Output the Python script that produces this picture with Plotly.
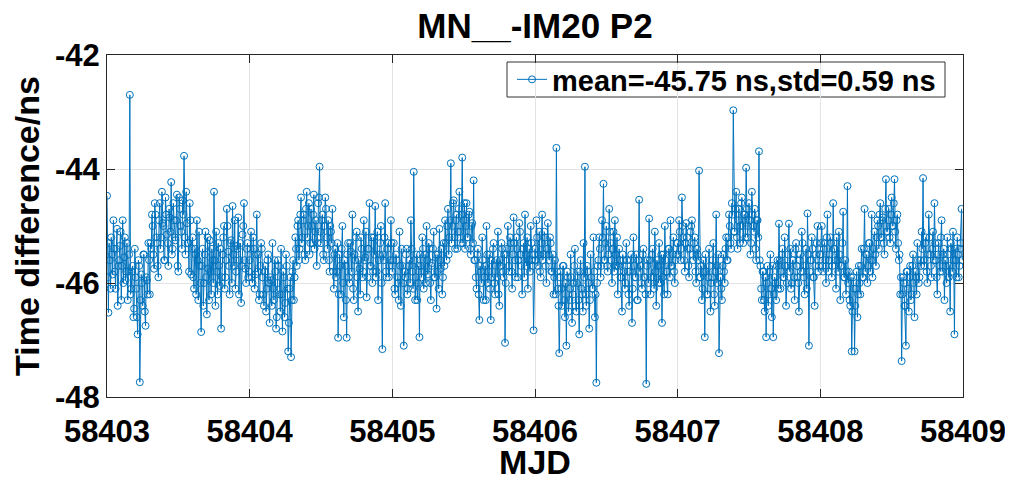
import plotly.graph_objects as go

# Time difference (ns) per MJD day (two interleaved passes per day)
day_58403 = [-44.47, -46.52, -45.60, -45.20, -45.85, -45.40, -46.10, -45.05, -45.70, -45.35, -46.30, -44.90, -45.55, -45.95, -45.30, -45.80, -42.70, -46.10, -45.70, -46.45, -45.90, -46.60, -45.60, -47.74, -45.85, -46.40, -45.50, -46.75, -45.95, -45.30, -46.20, -45.40, -45.00, -45.75, -44.80, -45.30, -45.90, -44.60, -45.20, -44.95, -45.60, -44.50, -45.15, -45.70, -44.85, -44.23, -45.40, -44.90, -45.25, -44.45, -45.80, -44.70, -45.10, -44.55, -43.77, -45.50, -44.95, -45.30, -44.60, -45.85, -45.20, -46.10, -45.50, -44.90, -46.30, -45.70, -46.86, -45.40, -46.00, -45.10, -46.55, -45.75, -45.25, -46.20, -45.60, -44.40, -46.40, -45.80, -45.30, -46.05, -46.80, -45.50, -45.00, -45.90, -44.70, -45.45, -46.20, -45.25, -44.65, -45.70, -46.10, -45.35, -44.85, -45.60, -46.35, -45.15, -44.60, -45.75, -45.40, -45.90]
day_58404 = [-45.60, -45.10, -46.00, -45.40, -45.85, -44.80, -45.50, -46.20, -45.30, -45.90, -46.40, -45.70, -46.10, -45.50, -46.70, -45.95, -45.30, -46.30, -45.80, -46.60, -45.60, -46.20, -45.40, -46.85, -45.90, -46.35, -45.70, -47.20, -46.10, -47.30, -45.80, -46.30, -45.20, -45.70, -44.90, -45.40, -44.50, -45.20, -44.80, -45.60, -44.40, -45.00, -45.50, -44.70, -45.30, -44.45, -45.10, -45.70, -44.60, -43.96, -45.30, -44.80, -45.60, -44.50, -45.20, -44.90, -45.80, -45.10, -44.70, -46.10, -45.40, -45.80, -46.96, -45.50, -46.20, -45.00, -46.60, -45.70, -46.96, -45.30, -46.00, -45.45, -44.80, -46.30, -45.60, -45.10, -46.50, -45.75, -45.20, -45.90, -44.90, -45.55, -46.25, -45.40, -44.60, -45.70, -46.00, -45.20, -44.65, -45.80, -46.30, -45.50, -45.00, -47.16, -45.60, -44.60, -45.90, -45.30, -45.70, -44.90]
day_58405 = [-45.80, -45.30, -46.20, -45.60, -46.00, -45.10, -46.40, -45.70, -47.10, -45.90, -45.40, -46.10, -45.60, -44.90, -45.80, -44.05, -46.30, -45.50, -46.00, -46.95, -45.70, -45.20, -46.10, -45.50, -45.00, -45.85, -45.40, -46.30, -45.65, -45.10, -45.90, -46.45, -45.50, -45.05, -45.75, -46.20, -45.30, -44.90, -45.60, -44.70, -45.20, -43.90, -45.00, -44.55, -45.40, -44.80, -45.10, -44.40, -45.30, -43.80, -44.90, -45.40, -44.60, -45.20, -44.75, -45.50, -44.95, -44.20, -45.60, -46.10, -45.40, -46.65, -45.80, -45.20, -46.30, -45.70, -45.00, -46.00, -45.50, -46.65, -45.90, -45.30, -46.20, -45.60, -45.10, -46.40, -45.70, -45.40, -45.90, -47.05, -45.50, -45.00, -45.80, -45.30, -46.10, -44.85, -45.60, -45.20, -45.90, -44.95, -45.50, -46.20, -45.30, -44.80, -45.70, -46.10, -45.40, -45.00, -45.60, -46.83]
day_58406 = [-45.40, -44.90, -45.70, -45.10, -45.90, -44.80, -45.50, -45.20, -46.00, -44.95, -45.60, -45.30, -45.80, -46.20, -45.60, -43.63, -46.10, -47.23, -45.80, -46.40, -45.70, -46.60, -47.10, -45.90, -46.30, -45.50, -46.70, -46.00, -45.40, -46.50, -45.80, -46.90, -45.60, -46.20, -45.30, -43.96, -46.40, -45.80, -46.80, -45.50, -46.10, -45.20, -46.60, -47.75, -45.70, -45.20, -45.90, -44.90, -44.26, -45.60, -45.00, -45.80, -44.70, -45.30, -46.00, -45.10, -44.90, -45.70, -46.20, -45.40, -45.90, -46.50, -45.60, -46.10, -45.30, -45.80, -46.40, -45.60, -46.70, -45.20, -45.90, -45.50, -46.30, -44.54, -45.70, -46.10, -45.40, -45.90, -47.77, -45.60, -44.87, -46.20, -45.50, -45.90, -45.10, -46.40, -45.70, -45.30, -46.00, -46.70, -45.50, -45.00, -45.80, -46.20, -45.40, -44.90, -45.70, -45.20, -46.00, -45.50]
day_58407 = [-45.30, -44.90, -45.60, -44.50, -45.20, -45.80, -44.95, -45.40, -45.90, -45.10, -44.90, -45.60, -45.20, -46.00, -45.50, -44.03, -45.90, -46.30, -45.60, -46.95, -45.80, -46.20, -45.40, -46.50, -45.90, -45.30, -46.40, -44.80, -45.70, -47.23, -45.90, -46.30, -45.50, -46.00, -45.20, -45.60, -44.80, -45.30, -44.60, -42.97, -45.10, -44.40, -45.40, -44.70, -45.00, -44.50, -45.30, -44.80, -43.98, -45.20, -44.60, -45.50, -44.40, -45.00, -44.70, -45.60, -44.90, -43.69, -45.70, -46.30, -45.80, -46.50, -46.95, -45.70, -46.20, -45.50, -46.60, -46.95, -45.90, -46.30, -45.60, -44.96, -46.10, -45.50, -45.90, -45.20, -46.40, -45.70, -44.96, -45.40, -46.00, -45.60, -46.30, -45.30, -45.90, -46.50, -45.50, -45.10, -45.80, -46.20, -45.40, -44.78, -47.10, -45.60, -45.20, -45.90, -46.40, -45.50, -45.00, -45.70]
day_58408 = [-45.50, -45.00, -45.80, -45.30, -46.00, -44.80, -45.60, -45.20, -45.90, -44.60, -45.40, -46.10, -45.60, -45.10, -46.30, -45.70, -44.75, -45.90, -46.20, -44.30, -45.80, -46.40, -47.20, -45.90, -47.20, -46.10, -46.60, -45.70, -46.20, -45.40, -45.90, -44.70, -45.50, -46.00, -45.30, -45.80, -44.80, -45.60, -45.10, -45.70, -44.90, -45.40, -44.60, -45.20, -44.85, -45.50, -44.18, -45.10, -44.70, -45.30, -44.50, -45.00, -44.18, -45.40, -44.80, -45.60, -46.20, -47.37, -45.90, -46.40, -47.10, -45.80, -46.50, -45.70, -46.20, -45.50, -46.60, -45.90, -45.30, -46.00, -45.60, -45.10, -44.16, -45.70, -45.20, -46.00, -44.80, -45.50, -45.90, -45.10, -44.60, -45.60, -46.20, -45.30, -45.80, -44.90, -45.50, -46.30, -45.70, -45.20, -45.90, -46.50, -45.40, -45.10, -46.90, -45.60, -45.20, -45.90, -45.40, -44.70]

day_58403_b = [-45.9, -45.3, -46.1, -45.5, -44.9, -45.8, -45.4, -46.4, -45.6, -45.1, -45.7, -46.0, -45.2, -45.8, -46.3, -45.5, -46.2, -45.8, -46.6, -45.4, -46.1, -46.9, -45.7, -46.3, -46.0, -45.5, -46.5, -45.9, -46.2, -45.6, -45.3, -44.8, -45.5, -44.6, -45.2, -45.7, -44.9, -45.4, -44.4, -45.0, -45.6, -44.8, -45.3, -44.7, -45.1, -45.5, -44.6, -45.2, -44.9, -45.7, -44.5, -45.0, -45.4, -44.8, -45.2, -44.4, -45.3, -45.8, -44.9, -45.4, -45.9, -45.4, -46.2, -45.6, -45.1, -46.0, -45.7, -46.4, -45.5, -45.9, -45.2, -46.3, -45.8, -45.4, -46.0, -45.6, -45.1, -46.2, -45.7, -45.4, -45.9, -45.2, -46.1, -45.6, -45.0, -45.7, -45.3, -46.0, -45.5, -44.9, -45.8, -45.4, -46.2, -45.3, -45.7, -45.0, -45.6, -46.0, -45.3, -45.8]
day_58404_b = [-45.4, -45.9, -45.2, -46.1, -45.5, -45.8, -46.3, -45.7, -45.4, -46.2, -45.8, -46.5, -45.6, -46.0, -45.9, -46.4, -46.1, -45.6, -46.8, -46.0, -45.7, -46.5, -46.2, -45.8, -46.6, -45.5, -46.1, -46.7, -45.9, -46.3, -45.6, -45.9, -45.4, -45.0, -45.6, -44.8, -45.3, -44.9, -45.5, -44.7, -45.2, -44.6, -45.3, -45.0, -44.8, -45.4, -44.9, -45.3, -44.5, -45.1, -44.9, -45.5, -45.0, -44.7, -45.4, -45.6, -45.0, -45.3, -45.8, -45.5, -45.9, -45.3, -46.2, -45.7, -45.4, -46.0, -45.6, -46.3, -45.5, -45.9, -45.3, -45.8, -46.1, -45.5, -45.2, -45.9, -45.6, -46.2, -45.4, -45.8, -45.6, -45.1, -45.9, -45.4, -45.7, -45.2, -45.8, -45.5, -45.9, -45.1, -45.6, -45.3, -46.0, -45.5, -45.2, -45.8, -45.4, -45.9, -45.6, -45.3]
day_58405_b = [-45.6, -46.1, -45.5, -45.9, -46.3, -45.7, -45.4, -46.0, -45.8, -45.5, -46.2, -45.7, -46.0, -45.4, -46.1, -45.6, -45.9, -46.3, -45.7, -45.5, -45.9, -45.4, -45.8, -46.0, -45.6, -45.3, -46.0, -45.7, -45.4, -45.9, -45.5, -45.8, -46.1, -45.6, -45.4, -45.9, -45.7, -45.3, -45.0, -45.5, -44.9, -45.3, -44.6, -45.2, -44.9, -45.4, -44.7, -45.1, -44.8, -45.3, -44.6, -45.0, -45.2, -44.8, -45.4, -45.0, -45.3, -45.6, -45.9, -45.5, -46.2, -45.7, -46.0, -45.6, -45.9, -46.3, -45.5, -45.8, -46.1, -45.6, -45.4, -46.0, -45.7, -45.9, -46.2, -45.6, -45.3, -45.8, -45.5, -46.0, -45.4, -45.7, -45.2, -45.8, -45.5, -45.3, -45.9, -45.4, -45.6, -45.1, -45.7, -45.4, -45.9, -45.5, -45.2, -45.6, -45.8, -45.3, -45.7, -45.5]
day_58406_b = [-45.6, -45.2, -45.5, -45.8, -45.3, -45.6, -45.1, -45.7, -45.4, -45.5, -45.2, -45.8, -45.5, -45.9, -46.2, -45.8, -46.4, -45.9, -46.1, -45.7, -46.3, -46.0, -45.8, -46.5, -46.1, -45.9, -46.2, -45.7, -46.4, -46.0, -46.3, -45.8, -46.1, -46.5, -45.9, -46.2, -45.7, -46.0, -46.3, -45.9, -46.1, -45.8, -46.2, -46.0, -45.6, -45.4, -45.7, -45.2, -45.6, -45.3, -45.7, -45.5, -45.1, -45.6, -45.4, -45.8, -45.5, -45.2, -45.7, -45.6, -45.9, -45.5, -45.8, -46.0, -45.6, -46.2, -45.8, -45.5, -46.1, -45.7, -45.9, -46.3, -45.6, -45.8, -46.0, -45.5, -45.9, -46.2, -45.7, -46.0, -45.6, -45.9, -45.4, -46.1, -45.8, -45.6, -46.0, -45.7, -45.5, -45.9, -46.2, -45.6, -45.8, -45.4, -45.9, -45.7, -45.5, -45.8, -45.6, -45.3]
day_58407_b = [-45.5, -45.1, -45.4, -45.0, -45.6, -45.3, -45.2, -45.7, -45.4, -45.0, -45.5, -45.3, -45.8, -45.4, -45.6, -45.9, -45.7, -46.1, -45.8, -45.5, -46.2, -45.9, -45.7, -46.0, -45.6, -46.2, -45.8, -46.0, -45.5, -45.9, -46.1, -45.7, -45.8, -45.4, -45.6, -45.2, -45.0, -45.4, -44.8, -45.1, -44.7, -45.2, -44.9, -45.3, -44.6, -45.0, -44.8, -45.2, -44.7, -45.0, -44.9, -45.3, -44.8, -45.1, -45.4, -44.9, -45.2, -45.6, -46.1, -45.8, -46.3, -45.9, -46.0, -46.4, -45.8, -46.1, -45.7, -46.2, -46.0, -45.7, -46.1, -45.6, -45.8, -45.4, -45.9, -45.7, -46.0, -45.5, -45.8, -46.1, -45.6, -45.9, -45.4, -45.7, -46.0, -45.6, -45.8, -45.3, -45.9, -45.7, -46.1, -45.5, -45.8, -45.6, -45.4, -45.9, -45.7, -45.3, -45.8, -45.5]
day_58408_b = [-45.3, -45.7, -45.4, -45.6, -45.2, -45.8, -45.5, -45.3, -45.7, -45.4, -45.6, -45.2, -45.8, -45.5, -45.7, -45.3, -45.9, -45.6, -45.8, -46.0, -46.3, -45.9, -46.5, -46.1, -46.4, -45.8, -46.2, -46.0, -45.7, -45.9, -45.4, -45.8, -45.5, -45.7, -45.3, -45.6, -45.9, -45.4, -45.5, -45.2, -45.0, -44.8, -45.2, -44.9, -45.3, -44.7, -45.1, -44.9, -45.2, -44.8, -45.0, -44.6, -45.1, -44.9, -45.3, -45.5, -45.9, -46.2, -46.0, -46.4, -45.8, -46.1, -45.9, -46.3, -45.7, -46.0, -45.8, -46.2, -45.6, -45.9, -45.7, -45.4, -45.6, -45.3, -45.8, -45.5, -45.2, -45.7, -45.4, -45.6, -45.3, -45.9, -45.5, -45.7, -45.2, -45.8, -45.4, -45.6, -46.0, -45.5, -45.7, -45.3, -45.8, -45.6, -45.4, -45.9, -45.5, -45.7, -45.3, -45.6]

days = [58403, 58404, 58405, 58406, 58407, 58408]
day_values_a = [day_58403, day_58404, day_58405, day_58406, day_58407, day_58408]
day_values_b = [day_58403_b, day_58404_b, day_58405_b, day_58406_b, day_58407_b, day_58408_b]

x_ticks = [58403, 58404, 58405, 58406, 58407, 58408, 58409]
y_ticks = [-48, -46, -44, -42]
y_tick_labels = ["-48", "-46", "-44", "-42"]

title_text = "MN__-IM20 P2"
legend_text = "mean=-45.75 ns,std=0.59 ns"

pts = []
for d, va, vb in zip(days, day_values_a, day_values_b):
    na, nb = len(va), len(vb)
    for k, v in enumerate(va):
        pts.append((d + k / na, v))
    for k, v in enumerate(vb):
        pts.append((d + (k + 0.5) / nb, v))
pts.sort()
mjd = [p[0] for p in pts]
td = [p[1] for p in pts]

FONT = "Liberation Sans, Arial, Helvetica, sans-serif"
BLUE = "#0072BD"
INK = "#262626"

# The page body has an 8px margin, so the figure is drawn 8px in from the window edge.
OFF = 8
W, H = 1013 - 2 * OFF, 489 - 2 * OFF
# target plot area in window pixels: x 107..963, y 55..397
L, T = 107 - OFF, 55 - OFF
R, B = W - (963 - OFF), H - (397 - OFF)
pw, ph = W - L - R, H - T - B

def px_x(sx):
    return (sx - OFF - L) / pw

def px_y(sy):
    return (H - B - (sy - OFF)) / ph

fig = go.Figure()
fig.add_trace(go.Scatter(
    x=mjd, y=td, mode="lines+markers", name=legend_text,
    line=dict(color=BLUE, width=1),
    marker=dict(symbol="circle-open", size=7, color=BLUE, line=dict(width=1, color=BLUE)),
))

# legend frame (MATLAB-style opaque box)
fig.add_shape(type="rect", xref="paper", yref="paper", layer="below",
              x0=px_x(507), x1=px_x(945), y0=px_y(97), y1=px_y(62),
              line=dict(color="#333333", width=1), fillcolor="white")

fig.update_layout(
    width=W, height=H,
    margin=dict(l=L, r=R, t=T, b=B, autoexpand=False),
    paper_bgcolor="white", plot_bgcolor="white",
    title=dict(text=title_text, x=0.5, xref="paper", xanchor="center",
               y=0.962, yref="container", yanchor="middle",
               font=dict(family=FONT, size=35, color="black", weight="bold")),
    showlegend=True,
    legend=dict(x=px_x(941), xanchor="right",
                y=px_y(79.5), yanchor="middle",
                bgcolor="rgba(0,0,0,0)", borderwidth=0,
                font=dict(family=FONT, size=29, color="black", weight="bold"),
                itemwidth=30, tracegroupgap=0),
)

fig.update_xaxes(
    range=[58403, 58409], tickvals=x_ticks, tickformat="d", automargin=False,
    ticks="inside", ticklen=8, tickcolor=INK, ticklabelstandoff=7,
    ticklabeloverflow="allow",
    showline=True, linecolor=INK, linewidth=1, mirror="ticks",
    showgrid=True, gridcolor="#e3e3e3", gridwidth=1, zeroline=False,
    tickfont=dict(family=FONT, size=31, color="black", weight="bold"),
    title=dict(text="MJD", standoff=13,
               font=dict(family=FONT, size=34, color="black", weight="bold")),
)
fig.update_yaxes(
    range=[-48, -42], tickvals=y_ticks, ticktext=y_tick_labels, automargin=False,
    ticks="inside", ticklen=8, tickcolor=INK, ticklabeloverflow="allow",
    showline=True, linecolor=INK, linewidth=1, mirror="ticks",
    showgrid=True, gridcolor="#e3e3e3", gridwidth=1, zeroline=False,
    tickfont=dict(family=FONT, size=31, color="black", weight="bold"),
    title=dict(text="Time difference/ns", standoff=6,
               font=dict(family=FONT, size=34, color="black", weight="bold")),
)

fig.write_html("out.html")
